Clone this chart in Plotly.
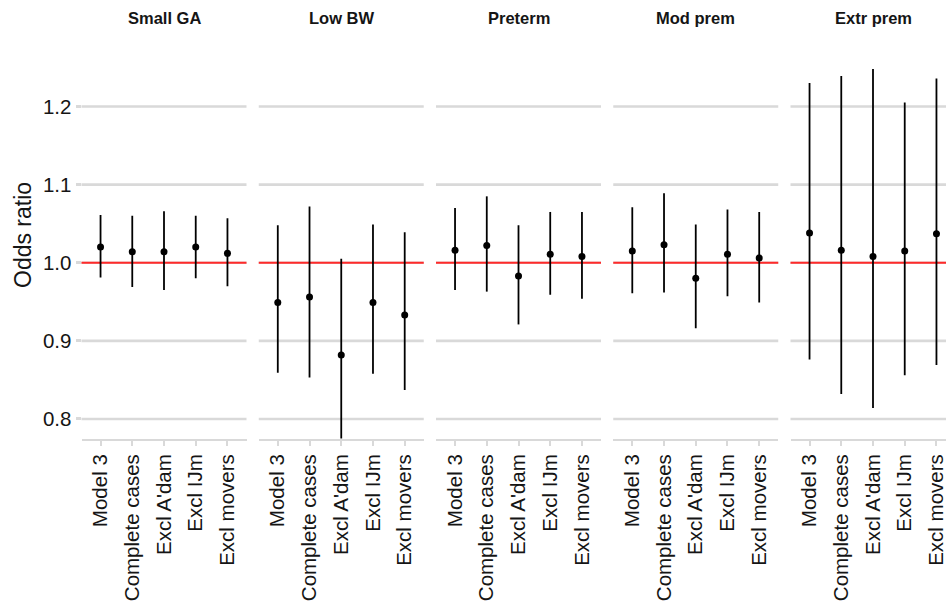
import plotly.graph_objects as go

# Sensitivity analyses: odds ratios with 95% CIs per birth outcome
outcomes = ["Small GA", "Low BW", "Preterm", "Mod prem", "Extr prem"]
models = ["Model 3", "Complete cases", "Excl A'dam", "Excl IJm", "Excl movers"]

or_small_ga = [1.020, 1.014, 1.014, 1.020, 1.012]
lo_small_ga = [0.981, 0.969, 0.965, 0.980, 0.970]
hi_small_ga = [1.061, 1.060, 1.066, 1.060, 1.057]

or_low_bw = [0.949, 0.956, 0.882, 0.949, 0.933]
lo_low_bw = [0.859, 0.853, 0.775, 0.858, 0.837]
hi_low_bw = [1.048, 1.072, 1.005, 1.049, 1.039]

or_preterm = [1.016, 1.022, 0.983, 1.011, 1.008]
lo_preterm = [0.965, 0.963, 0.921, 0.959, 0.954]
hi_preterm = [1.070, 1.085, 1.048, 1.065, 1.065]

or_mod_prem = [1.015, 1.023, 0.980, 1.011, 1.006]
lo_mod_prem = [0.961, 0.962, 0.916, 0.957, 0.949]
hi_mod_prem = [1.071, 1.089, 1.049, 1.068, 1.065]

or_extr_prem = [1.038, 1.016, 1.008, 1.015, 1.037]
lo_extr_prem = [0.876, 0.832, 0.814, 0.856, 0.869]
hi_extr_prem = [1.230, 1.239, 1.248, 1.205, 1.236]

y_ticks = [0.8, 0.9, 1.0, 1.1, 1.2]
ref_or = 1.0

estimates = [or_small_ga, or_low_bw, or_preterm, or_mod_prem, or_extr_prem]
lowers = [lo_small_ga, lo_low_bw, lo_preterm, lo_mod_prem, lo_extr_prem]
uppers = [hi_small_ga, hi_low_bw, hi_preterm, hi_mod_prem, hi_extr_prem]

W, H = 946, 602
ML, MR, MT, MB = 81, 0, 31, 163
plot_w = W - ML - MR
panel_w = 165.0
panel_step = 177.25
first_left = 81.5
cat_step = panel_w / 5.2

FONT = "Liberation Sans, Arial, sans-serif"
GRID = "#d9d9d9"
TEXT = "#151515"

fig = go.Figure()
layout = dict(
    width=W, height=H,
    margin=dict(l=ML, r=MR, t=MT, b=MB),
    paper_bgcolor="white", plot_bgcolor="white",
    showlegend=False,
    font=dict(family=FONT, color=TEXT),
    shapes=[], annotations=[],
)

y_range = [0.7743, 1.2967]

for i, name in enumerate(outcomes):
    sfx = "" if i == 0 else str(i + 1)
    left_px = first_left + i * panel_step
    right_px = min(left_px + panel_w, W)
    d0 = (left_px - ML) / plot_w
    d1 = (right_px - ML) / plot_w
    x_hi = 4.6 - (left_px + panel_w - right_px) / cat_step

    est = estimates[i]
    lo = lowers[i]
    hi = uppers[i]
    fig.add_trace(go.Scatter(
        x=models, y=est,
        xaxis="x" + sfx, yaxis="y" + sfx,
        mode="markers",
        marker=dict(color="black", size=7),
        error_y=dict(
            type="data", symmetric=False,
            array=[h - e for h, e in zip(hi, est)],
            arrayminus=[e - l for e, l in zip(est, lo)],
            width=0, thickness=1.8, color="black",
        ),
        hoverinfo="x+y",
    ))

    layout["xaxis" + sfx] = dict(
        domain=[d0, d1], anchor="y" + sfx, type="category",
        categoryorder="array", categoryarray=models,
        range=[-0.6, x_hi],
        showgrid=False, zeroline=False,
        showline=True, linecolor=GRID, linewidth=2,
        ticks="outside", ticklen=5, tickwidth=2, tickcolor=GRID,
        tickangle=-90,
        tickfont=dict(size=20.5, family=FONT, color=TEXT),
    )
    layout["yaxis" + sfx] = dict(
        domain=[0, 1], anchor="x" + sfx,
        range=y_range, tickvals=y_ticks,
        ticktext=[f"{v:.1f}" for v in y_ticks],
        showgrid=False,
        zeroline=False, showline=False,
        ticks="outside" if i == 0 else "",
        ticklen=5, tickwidth=2.6, tickcolor=GRID,
        showticklabels=(i == 0),
        tickfont=dict(size=20.5, family=FONT, color=TEXT),
    )
    if i > 0:
        layout["yaxis" + sfx]["matches"] = "y"

    # horizontal grid lines (drawn as shapes so the reference line sits on top)
    for t in y_ticks:
        layout["shapes"].append(dict(
            type="line", xref="x" + sfx + " domain", yref="y" + sfx,
            x0=0, x1=1, y0=t, y1=t,
            line=dict(color=GRID, width=2.6), layer="below",
        ))

    # reference line at OR = 1
    layout["shapes"].append(dict(
        type="line", xref="x" + sfx + " domain", yref="y" + sfx,
        x0=0, x1=1, y0=ref_or, y1=ref_or,
        line=dict(color="#ff2a2a", width=1.8), layer="below",
    ))

    # facet strip title
    layout["annotations"].append(dict(
        text=f"<b>{name}</b>", xref="paper", yref="paper",
        x=(left_px + panel_w / 2 - ML) / plot_w, y=1, yshift=13,
        xanchor="center", yanchor="middle", showarrow=False,
        font=dict(size=16.5, family=FONT, color=TEXT),
    ))

layout["annotations"].append(dict(
    text="Odds ratio", xref="paper", yref="paper",
    x=0, y=0.5, xshift=23 - ML, xanchor="center", yanchor="middle",
    textangle=-90, showarrow=False,
    font=dict(size=23, family=FONT, color=TEXT),
))

fig.update_layout(**layout)
fig.write_html("out.html")
